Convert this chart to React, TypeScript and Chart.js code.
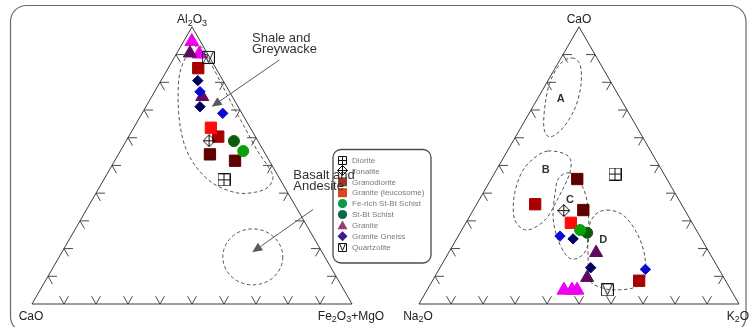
import React, { useEffect, useRef } from 'react';
import { Chart, registerables } from 'chart.js';

Chart.register(...registerables);

const FONT = '"Liberation Sans", Arial, Helvetica, sans-serif';

// ---------------- DATA ----------------
// Left diagram, compositions in % : [Al2O3, CaO, Fe2O3+MgO]
const afmGraniteMagenta = [[94.7, 2.7, 2.6], [90.2, 2.6, 7.2]];
const afmGranitePurple = [[90.5, 5.4, 4.1], [74.8, 9.4, 15.8]];
const afmLeucosome = [[63.6, 12.3, 24.1]];
const afmGranodioriteDark = [[85.1, 5.5, 9.4], [60.4, 11.6, 28.0]];
const afmGranodioriteMaroon = [[54.0, 17.4, 28.6], [51.7, 10.7, 37.6]];
const afmGneissNavy = [[80.6, 7.9, 11.5], [71.2, 11.9, 16.9]];
const afmGneissBlue = [[76.6, 9.2, 14.2], [68.8, 6.0, 25.2]];
const afmFeSchist = [[55.2, 6.4, 38.4]];
const afmStBtSchist = [[58.8, 7.5, 33.7]];
const afmDiorite = [[44.8, 17.6, 37.6]];
const afmTonalite = [[58.9, 15.2, 25.9]];
const afmQuartzolite = [[89.0, 0.4, 10.6]];

// Right diagram, compositions in % : [CaO, Na2O, K2O]
const cnkGraniteMagenta = [[5.0, 52.2, 42.8], [5.0, 49.7, 45.3], [5.0, 48.1, 46.9]];
const cnkGranitePurple = [[18.5, 35.4, 46.1], [9.5, 42.7, 47.8]];
const cnkLeucosome = [[29.3, 37.9, 32.8]];
const cnkGranodioriteDark = [[36.0, 45.7, 18.3], [8.4, 27.0, 64.6]];
const cnkGranodioriteMaroon = [[45.1, 28.0, 26.9], [33.9, 31.7, 34.4]];
const cnkGneissNavy = [[23.5, 40.1, 36.4], [13.1, 39.8, 47.1]];
const cnkGneissBlue = [[24.5, 43.7, 31.8], [12.5, 23.0, 64.5]];
const cnkFeSchist = [[26.7, 36.3, 37.0]];
const cnkStBtSchist = [[25.7, 34.6, 39.7]];
const cnkDiorite = [[46.9, 15.3, 37.8]];
const cnkTonalite = [[33.7, 37.9, 28.4]];
const cnkQuartzolite = [[5.1, 38.6, 56.3]];

// Dashed fields (ternary vertices, %)
const fieldShale = [[93.1, 1.0, 5.9], [87.3, 0.7, 12.0], [79.0, 1.1, 19.9], [70.7, 1.5, 27.8], [62.8, 1.7, 35.5], [54.9, 1.9, 43.2], [49.8, 1.4, 48.8], [45.8, 1.8, 52.4], [42.2, 5.1, 52.7], [40.4, 9.8, 49.8], [40.1, 15.9, 44.0], [43.3, 21.5, 35.2], [49.1, 23.9, 27.0], [55.9, 23.9, 20.2], [64.2, 21.6, 14.2], [74.3, 17.2, 8.5], [83.7, 11.9, 4.4], [90.2, 6.1, 3.7]];
const fieldBasaltCentre = [17.0, 22.5, 60.5];
const fieldA = [[88.8, 7.8, 3.4], [86.3, 6.5, 7.2], [79.0, 9.9, 11.1], [70.7, 15.9, 13.4], [63.5, 23.3, 13.2], [60.3, 28.9, 10.8], [63.5, 29.2, 7.3], [71.8, 24.7, 3.5], [80.1, 19.0, 0.9], [86.6, 12.6, 0.8]];
const fieldB = [[55.2, 32.1, 12.7], [53.4, 26.7, 19.9], [47.6, 29.0, 23.4], [37.5, 38.1, 24.4], [30.3, 45.5, 24.2], [26.7, 52.9, 20.4], [30.3, 54.9, 14.8], [38.6, 51.0, 10.4], [46.9, 44.7, 8.4], [52.0, 38.7, 9.3]];
const fieldC = [[47.3, 29.2, 23.5], [44.0, 27.7, 28.3], [37.5, 28.8, 33.7], [27.8, 33.0, 39.2], [20.2, 37.4, 42.4], [16.6, 42.0, 41.4], [17.0, 45.0, 38.0], [23.1, 45.0, 31.9], [31.4, 42.4, 26.2], [40.1, 37.4, 22.5], [45.5, 33.6, 20.9]];
const fieldD = [[33.9, 24.3, 41.8], [32.1, 20.2, 47.7], [25.6, 19.1, 55.3], [17.0, 20.9, 62.1], [8.7, 25.4, 65.9], [5.8, 30.2, 64.0], [5.1, 36.8, 58.1], [6.1, 40.4, 53.5], [8.7, 42.2, 49.1], [18.4, 38.0, 43.6], [26.7, 33.8, 39.5], [32.1, 29.0, 38.9]];
const fieldLabels = ['A', 'B', 'C', 'D'];
const fieldLabelComps = [[74.0, 18.7, 7.3], [48.4, 36.2, 15.4], [37.5, 34.1, 28.4], [23.1, 30.9, 46.0]];

const leftVertexLabels = ['Al2O3', 'CaO', 'Fe2O3+MgO']; // top, left, right
const rightVertexLabels = ['CaO', 'Na2O', 'K2O'];
const tickPercents = [10, 20, 30, 40, 50, 60, 70, 80, 90];

const legendLabels = ['Diorite', 'Tonalite', 'Granodiorite', 'Granite (leucosome)', 'Fe-rich St-Bt Schist', 'St-Bt Schist', 'Granite', 'Granite Gneiss', 'Quartzolite'];
const legendColors = ['#222', '#222', '#9c3a2a', '#d9461c', '#0b9a4c', '#0a6a48', '#9a3a72', '#3c1c8c', '#222'];
const legendMarkers = ['diorite', 'tonalite', 'rect', 'rect', 'circle', 'circle', 'triangle', 'rectRot', 'quartzolite'];

const shaleText = ['Shale and', 'Greywacke'];
const basaltText = ['Basalt and', 'Andesite'];

// ---------------- GEOMETRY ----------------
const SQ3_2 = Math.sqrt(3) / 2;
const OFFSET = 1.209375; // x offset of the second triangle (data units = triangle sides)
const XMIN = -0.1, XMAX = 2.240625, YMIN = -0.071875, YMAX = 0.95;

function tern(t: number[], off: number) {
  const s = t[0] + t[1] + t[2];
  const a = t[0] / s, c = t[2] / s;
  return { x: off + c + a / 2, y: a * SQ3_2 };
}

function makeIcon(kind: string, s: number): HTMLCanvasElement {
  const c = document.createElement('canvas');
  c.width = s; c.height = s;
  const g = c.getContext('2d')!;
  g.strokeStyle = '#111'; g.lineWidth = 1;
  const m = s / 2, e = 0.5, f = s - 0.5;
  g.beginPath();
  if (kind === 'diorite') {
    g.rect(e, e, s - 1, s - 1);
    g.moveTo(m, e); g.lineTo(m, f); g.moveTo(e, m); g.lineTo(f, m);
  } else if (kind === 'tonalite') {
    g.moveTo(m, e); g.lineTo(f, m); g.lineTo(m, f); g.lineTo(e, m); g.closePath();
    g.moveTo(m, e); g.lineTo(m, f); g.moveTo(e, m); g.lineTo(f, m);
  } else {
    g.rect(e, e, s - 1, s - 1);
    g.moveTo(e + 1, e); g.lineTo(m, f - 1); g.lineTo(f - 1, e);
  }
  g.stroke();
  return c;
}

function drawChem(ctx: CanvasRenderingContext2D, text: string, x: number, y: number, size: number) {
  const runs = text.split(/(\d)/).filter((r) => r.length);
  const main = `${size}px ${FONT}`, sub = `${Math.round(size * 0.72)}px ${FONT}`;
  let total = 0;
  const ws = runs.map((r) => { ctx.font = /\d/.test(r) ? sub : main; const w = ctx.measureText(r).width; total += w; return w; });
  let cx = x - total / 2;
  ctx.textAlign = 'left'; ctx.textBaseline = 'alphabetic';
  runs.forEach((r, i) => {
    const isSub = /\d/.test(r);
    ctx.font = isSub ? sub : main;
    ctx.fillText(r, cx, isSub ? y + size * 0.22 : y);
    cx += ws[i];
  });
}

function closedSpline(ctx: CanvasRenderingContext2D, pts: number[][]) {
  const n = pts.length;
  ctx.beginPath();
  ctx.moveTo(pts[0][0], pts[0][1]);
  for (let i = 0; i < n; i++) {
    const p0 = pts[(i - 1 + n) % n], p1 = pts[i], p2 = pts[(i + 1) % n], p3 = pts[(i + 2) % n];
    ctx.bezierCurveTo(p1[0] + (p2[0] - p0[0]) / 6, p1[1] + (p2[1] - p0[1]) / 6,
      p2[0] - (p3[0] - p1[0]) / 6, p2[1] - (p3[1] - p1[1]) / 6, p2[0], p2[1]);
  }
  ctx.closePath();
}

function roundRect(ctx: CanvasRenderingContext2D, x: number, y: number, w: number, h: number, r: number) {
  ctx.beginPath();
  ctx.moveTo(x + r, y);
  ctx.lineTo(x + w - r, y); ctx.arcTo(x + w, y, x + w, y + r, r);
  ctx.lineTo(x + w, y + h - r); ctx.arcTo(x + w, y + h, x + w - r, y + h, r);
  ctx.lineTo(x + r, y + h); ctx.arcTo(x, y + h, x, y + h - r, r);
  ctx.lineTo(x, y + r); ctx.arcTo(x, y, x + r, y, r);
  ctx.closePath();
}

function drawMarker(ctx: CanvasRenderingContext2D, kind: string, cx: number, cy: number, color: string, icons: any) {
  ctx.save();
  ctx.fillStyle = color;
  if (icons[kind]) {
    const im = icons[kind];
    ctx.drawImage(im, Math.round(cx - im.width / 2), Math.round(cy - im.height / 2));
  } else if (kind === 'rect') {
    ctx.fillRect(cx - 4.5, cy - 4.5, 9, 9);
  } else if (kind === 'circle') {
    ctx.beginPath(); ctx.arc(cx, cy, 4.6, 0, Math.PI * 2); ctx.fill();
  } else if (kind === 'triangle') {
    ctx.beginPath(); ctx.moveTo(cx, cy - 5); ctx.lineTo(cx + 5, cy + 3.8); ctx.lineTo(cx - 5, cy + 3.8); ctx.closePath(); ctx.fill();
  } else if (kind === 'rectRot') {
    ctx.beginPath(); ctx.moveTo(cx, cy - 5); ctx.lineTo(cx + 5, cy); ctx.lineTo(cx, cy + 5); ctx.lineTo(cx - 5, cy); ctx.closePath(); ctx.fill();
  }
  ctx.restore();
}

function arrow(ctx: CanvasRenderingContext2D, x1: number, y1: number, x2: number, y2: number) {
  const ang = Math.atan2(y2 - y1, x2 - x1);
  const L = 10, W = 4.5;
  const bx = x2 - L * Math.cos(ang), by = y2 - L * Math.sin(ang);
  ctx.beginPath(); ctx.moveTo(x1, y1); ctx.lineTo(bx, by); ctx.stroke();
  ctx.beginPath();
  ctx.moveTo(x2, y2);
  ctx.lineTo(bx + W * Math.sin(ang), by - W * Math.cos(ang));
  ctx.lineTo(bx - W * Math.sin(ang), by + W * Math.cos(ang));
  ctx.closePath(); ctx.fill();
}

export default function App() {
  const ref = useRef<HTMLCanvasElement>(null);

  useEffect(() => {
    const canvas = ref.current!;
    const icons: any = {
      diorite: makeIcon('diorite', 13),
      tonalite: makeIcon('tonalite', 13),
      quartzolite: makeIcon('quartzolite', 13),
    };
    const legIcons: any = {
      diorite: makeIcon('diorite', 9),
      tonalite: makeIcon('tonalite', 11),
      quartzolite: makeIcon('quartzolite', 9),
    };

    const series = [
      { name: 'Diorite', left: afmDiorite, right: cnkDiorite, style: 'diorite', color: '#111', r: 6 },
      { name: 'Tonalite', left: afmTonalite, right: cnkTonalite, style: 'tonalite', color: '#111', r: 6 },
      { name: 'Quartzolite', left: afmQuartzolite, right: cnkQuartzolite, style: 'quartzolite', color: '#111', r: 6 },
      { name: 'Granite Gneiss (navy)', left: afmGneissNavy, right: cnkGneissNavy, style: 'rectRot', color: '#00005e', r: 5.2 },
      { name: 'Granite Gneiss (blue)', left: afmGneissBlue, right: cnkGneissBlue, style: 'rectRot', color: '#0a0ad0', r: 5.2 },
      { name: 'Fe-rich St-Bt Schist', left: afmFeSchist, right: cnkFeSchist, style: 'circle', color: '#0aa00a', r: 5.5 },
      { name: 'St-Bt Schist', left: afmStBtSchist, right: cnkStBtSchist, style: 'circle', color: '#0a5e0a', r: 5.5 },
      { name: 'Granite (purple)', left: afmGranitePurple, right: cnkGranitePurple, style: 'triangle', color: '#5e0a5e', r: 7.5 },
      { name: 'Granite (magenta)', left: afmGraniteMagenta, right: cnkGraniteMagenta, style: 'triangle', color: '#ee00ee', r: 8 },
      { name: 'Granite (leucosome)', left: afmLeucosome, right: cnkLeucosome, style: 'rect', color: '#ff0a0a', r: 8 },
      { name: 'Granodiorite (dark red)', left: afmGranodioriteDark, right: cnkGranodioriteDark, style: 'rect', color: '#a80000', r: 8 },
      { name: 'Granodiorite (maroon)', left: afmGranodioriteMaroon, right: cnkGranodioriteMaroon, style: 'rect', color: '#5e0000', r: 8 },
    ];

    const datasets = series.map((s) => ({
      label: s.name,
      data: [...s.left.map((t) => tern(t, 0)), ...s.right.map((t) => tern(t, OFFSET))],
      pointStyle: icons[s.style] ? icons[s.style] : s.style,
      pointRadius: s.r,
      backgroundColor: s.color,
      borderColor: s.color,
      borderWidth: icons[s.style] ? 0 : 1,
      showLine: false,
      clip: false as any,
    }));

    const decor = {
      id: 'decor',
      beforeDraw(chart: any) {
        const { ctx, width, height } = chart;
        ctx.save();
        ctx.fillStyle = '#fff';
        ctx.fillRect(0, 0, width, height);
        ctx.strokeStyle = '#6a6a6a';
        ctx.lineWidth = 1.2;
        roundRect(ctx, 10.5, 5.5, 735.5, 327, 16);
        ctx.stroke();
        ctx.restore();
      },
      beforeDatasetsDraw(chart: any) {
        const ctx: CanvasRenderingContext2D = chart.ctx;
        const xs = chart.scales.x, ys = chart.scales.y;
        const P = (x: number, y: number) => [xs.getPixelForValue(x), ys.getPixelForValue(y)];
        const T = (t: number[], off: number) => { const q = tern(t, off); return P(q.x, q.y); };
        const unit = (a: number[], b: number[]) => { const dx = b[0] - a[0], dy = b[1] - a[1]; const l = Math.hypot(dx, dy); return [dx / l, dy / l]; };
        ctx.save();
        [0, OFFSET].forEach((off, k) => {
          const A = P(off + 0.5, SQ3_2), B = P(off, 0), C = P(off + 1, 0);
          ctx.strokeStyle = '#3a3a3a'; ctx.lineWidth = 1; ctx.setLineDash([]);
          ctx.beginPath(); ctx.moveTo(A[0], A[1]); ctx.lineTo(B[0], B[1]); ctx.lineTo(C[0], C[1]); ctx.closePath(); ctx.stroke();
          const sides = [
            { S: B, E: C, d: [unit(C, A), unit(B, A)] },
            { S: B, E: A, d: [unit(B, C), unit(A, C)] },
            { S: C, E: A, d: [unit(C, B), unit(A, B)] },
          ];
          const L = 9;
          ctx.strokeStyle = '#4a4a4a';
          ctx.beginPath();
          sides.forEach((sd) => {
            tickPercents.forEach((p) => {
              const f = p / 100;
              const px = sd.S[0] + f * (sd.E[0] - sd.S[0]), py = sd.S[1] + f * (sd.E[1] - sd.S[1]);
              sd.d.forEach((d) => { ctx.moveTo(px, py); ctx.lineTo(px + L * d[0], py + L * d[1]); });
            });
          });
          ctx.stroke();
          const labels = k === 0 ? leftVertexLabels : rightVertexLabels;
          ctx.fillStyle = '#222';
          drawChem(ctx, labels[0], A[0], A[1] - 4, 12);
          drawChem(ctx, labels[1], B[0] - 1, B[1] + 15.5, 12);
          drawChem(ctx, labels[2], C[0] - 1, C[1] + 15.5, 12);
        });
        // dashed fields
        ctx.strokeStyle = '#555';
        ctx.lineWidth = 1;
        ctx.setLineDash([3.5, 2.5]);
        closedSpline(ctx, fieldShale.map((t) => T(t, 0)));
        ctx.stroke();
        const bc = T(fieldBasaltCentre, 0);
        ctx.beginPath(); ctx.ellipse(bc[0], bc[1], 30, 28, 0, 0, Math.PI * 2); ctx.stroke();
        [fieldA, fieldB, fieldC, fieldD].forEach((f) => { closedSpline(ctx, f.map((t) => T(t, OFFSET))); ctx.stroke(); });
        ctx.setLineDash([]);
        // field labels
        ctx.fillStyle = '#333';
        ctx.font = `bold 11px ${FONT}`;
        ctx.textAlign = 'center'; ctx.textBaseline = 'middle';
        fieldLabels.forEach((l, i) => { const p = T(fieldLabelComps[i], OFFSET); ctx.fillText(l, p[0], p[1]); });
        ctx.restore();
      },
      afterDatasetsDraw(chart: any) {
        const ctx: CanvasRenderingContext2D = chart.ctx;
        const xs = chart.scales.x, ys = chart.scales.y;
        const P = (x: number, y: number) => [xs.getPixelForValue(x), ys.getPixelForValue(y)];
        ctx.save();
        // legend box
        ctx.fillStyle = '#fff';
        roundRect(ctx, 333, 149.5, 98, 113.5, 8);
        ctx.fill();
        ctx.strokeStyle = '#4a4a4a'; ctx.lineWidth = 1.3;
        ctx.stroke();
        legendLabels.forEach((lab, i) => {
          const cy = 160 + i * 10.9;
          drawMarker(ctx, legendMarkers[i], 342.5, cy, legendColors[i], legIcons);
          ctx.fillStyle = '#7a7a7a';
          ctx.font = `8px ${FONT}`;
          ctx.textAlign = 'left'; ctx.textBaseline = 'middle';
          ctx.fillText(lab, 352, cy + 0.5);
        });
        // annotations
        ctx.fillStyle = '#333';
        ctx.font = `13px ${FONT}`;
        ctx.textAlign = 'left'; ctx.textBaseline = 'alphabetic';
        let p = P(0.6875, 0.8188); ctx.fillText(shaleText[0], p[0], p[1]);
        p = P(0.6875, 0.7859); ctx.fillText(shaleText[1], p[0], p[1]);
        p = P(0.8166, 0.3906); ctx.fillText(basaltText[0], p[0], p[1]);
        p = P(0.8166, 0.3563); ctx.fillText(basaltText[1], p[0], p[1]);
        ctx.strokeStyle = '#5a5a5a'; ctx.fillStyle = '#5a5a5a'; ctx.lineWidth = 1;
        let a1 = P(0.7728, 0.7625), a2 = P(0.5616, 0.6166);
        arrow(ctx, a1[0], a1[1], a2[0], a2[1]);
        a1 = P(0.8791, 0.2959); a2 = P(0.6884, 0.1616);
        arrow(ctx, a1[0], a1[1], a2[0], a2[1]);
        ctx.restore();
      },
    };

    const chart = new Chart(canvas, {
      type: 'scatter',
      data: { datasets: datasets as any },
      options: {
        animation: false,
        responsive: false,
        events: [],
        layout: { padding: 0, autoPadding: false },
        scales: {
          x: { type: 'linear', min: XMIN, max: XMAX, display: false },
          y: { type: 'linear', min: YMIN, max: YMAX, display: false },
        },
        plugins: { legend: { display: false }, tooltip: { enabled: false } },
      },
      plugins: [decor],
    });
    return () => chart.destroy();
  }, []);

  return (
    <canvas
      ref={ref}
      width={749}
      height={327}
      style={{ position: 'fixed', left: 0, top: 0, width: 749, height: 327, display: 'block' }}
    />
  );
}
